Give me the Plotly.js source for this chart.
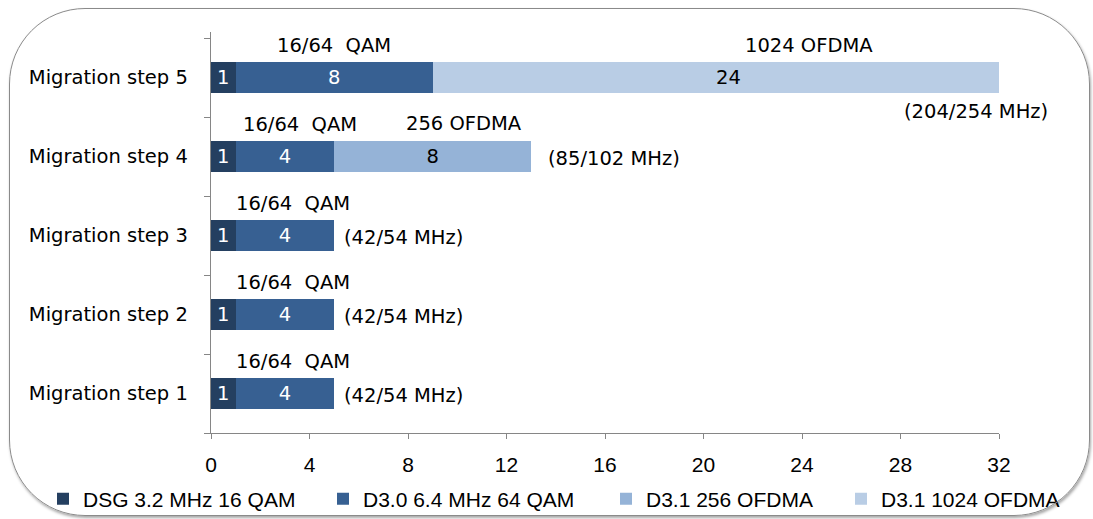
<!DOCTYPE html>
<html><head><meta charset="utf-8">
<script src="https://cdn.plot.ly/plotly-3.0.1.min.js"></script>
<style>
html,body{margin:0;padding:0;background:#fff;}
#wrap{position:relative;width:1093px;height:519px;overflow:hidden;}
#chart{position:absolute;left:0;top:0;width:1093px;height:519px;}
#frame{position:absolute;left:9px;top:8px;width:1079px;height:506px;border:1.6px solid #8a8a8a;border-radius:76px;box-shadow:1px 2px 3px rgba(0,0,0,0.35);pointer-events:none;}
</style></head>
<body><div id="wrap"><div id="chart"></div><div id="frame"></div></div>
<script>
const categories = ['Migration step 1','Migration step 2','Migration step 3','Migration step 4','Migration step 5'];
const seriesNames = ['DSG 3.2 MHz 16 QAM','D3.0 6.4 MHz 64 QAM','D3.1 256 OFDMA','D3.1 1024 OFDMA'];
const dsg = [1,1,1,1,1];
const d30 = [4,4,4,4,8];
const d31_256 = [null,null,null,8,null];
const d31_1024 = [null,null,null,null,24];
const freqLabels = ['(42/54 MHz)','(42/54 MHz)','(42/54 MHz)','(85/102 MHz)','(204/254 MHz)'];
const xTicks = [0,4,8,12,16,20,24,28,32];
const xMax = 32;

const colors = ['#243f60','#376092','#95b3d7','#b9cde5'];
const textColors = ['#ffffff','#ffffff','#000000','#000000'];
const series = [dsg,d30,d31_256,d31_1024];
const FONT = 'DejaVu Sans, sans-serif';
const FS = 19.5;
const NARROW = 'Liberation Sans Narrow, Arial Narrow, sans-serif';
const legendNames = ['legend','legend2','legend3','legend4'];

const traces = series.map((vals,i)=>({
  type:'bar', orientation:'h', name:seriesNames[i], y:categories, x:vals,
  marker:{color:colors[i]}, legend:legendNames[i],
  text:vals.map(v=>(v==null||i===3)?'':String(v)), textposition:'inside', insidetextanchor:'middle',
  textfont:{family:FONT,size:FS,color:textColors[i]}, hoverinfo:'x+name'
}));

const ann = [];
const afont = {family:FONT,size:FS,color:'#000'};
const qamShift = [8,8,8,15,0];
const freqShift = [8,8,8,15];
categories.forEach((c,k)=>{
  ann.push({x:dsg[k]+d30[k]/2,y:c,text:'16/64&nbsp;&nbsp;QAM',showarrow:false,yshift:32,xshift:qamShift[k],font:afont,xanchor:'center'});
  const total = dsg[k]+d30[k]+(d31_256[k]||0)+(d31_1024[k]||0);
  if(total<=xMax){
    ann.push({x:total,y:c,text:freqLabels[k],showarrow:false,xanchor:'left',xshift:freqShift[k],yshift:-2,font:afont});
  } else {
    ann.push({xref:'paper',x:1,y:c,text:freqLabels[k],showarrow:false,xanchor:'right',xshift:51,yshift:-34,font:afont});
  }
});
// value label of the 1024 OFDMA segment (bar runs past the axis end and is clipped)
const s5 = dsg[4]+d30[4];
ann.push({x:s5+d31_1024[4]/2,y:categories[4],text:String(d31_1024[4]),showarrow:false,font:afont});
ann.push({x:dsg[3]+d30[3]+d31_256[3]/2,y:categories[3],text:'256 OFDMA',showarrow:false,yshift:33,xshift:31,font:afont});
ann.push({x:s5+d31_1024[4]/2,y:categories[4],text:'1024 OFDMA',showarrow:false,yshift:32,xshift:81,font:afont});

const legX = [43,323,606,841];
const layout = {
  width:1093,height:519,margin:{l:211,r:94,t:32,b:86,autoexpand:false},
  barmode:'stack',bargap:0.61,
  paper_bgcolor:'rgba(0,0,0,0)',plot_bgcolor:'rgba(0,0,0,0)',
  font:{family:FONT,size:FS,color:'#000'},
  showlegend:true,
  xaxis:{range:[0,xMax],tickvals:xTicks,ticktext:xTicks.map(String),showgrid:false,zeroline:false,
    showline:true,linecolor:'#868686',linewidth:1.3,ticks:'outside',ticklen:5,tickcolor:'#868686',
    tickfont:{family:NARROW,size:21},ticklabelstandoff:7,fixedrange:true},
  yaxis:{type:'category',categoryorder:'array',categoryarray:categories,showgrid:false,zeroline:false,
    showline:true,linecolor:'#868686',linewidth:1.3,ticks:'outside',ticklen:6,tickcolor:'#868686',
    tickson:'boundaries',tickfont:{family:FONT,size:FS},ticklabelstandoff:18,fixedrange:true},
  annotations:ann
};
legendNames.forEach((ln,i)=>{
  layout[ln] = {orientation:'h',xref:'container',yref:'container',x:legX[i]/1093,xanchor:'left',
    y:1-499/519,yanchor:'middle',font:{family:NARROW,size:21,color:'#000'},
    itemwidth:30,bgcolor:'rgba(0,0,0,0)'};
});
Plotly.newPlot('chart',traces,layout,{displayModeBar:false,staticPlot:true});
</script></body></html>
